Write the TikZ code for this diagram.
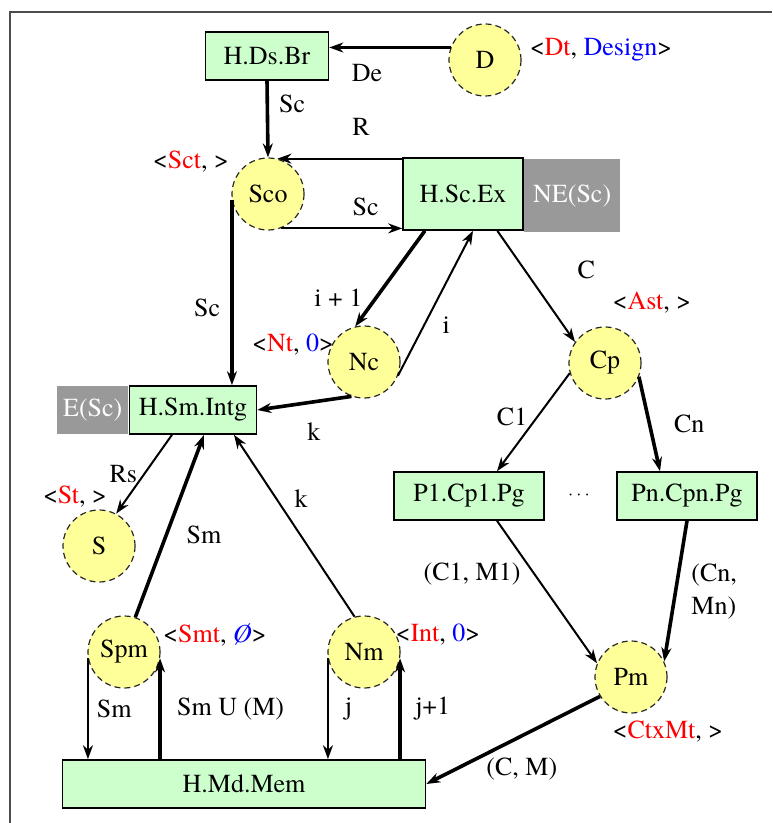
\documentclass[tikz,border=0pt]{standalone}
\usepackage{fontspec}
\setmainfont{texgyretermes}[Extension=.otf, UprightFont=*-regular,
  ItalicFont=*-italic, BoldFont=*-bold, BoldItalicFont=*-bolditalic]
\usepackage{tikz}
\usetikzlibrary{arrows.meta,positioning}
\usepackage{xcolor}
\definecolor{BoxGreen}{HTML}{CCFFCC}
\definecolor{StateYellow}{HTML}{FFFF99}
\definecolor{TagGray}{HTML}{999999}
\definecolor{FrameGray}{HTML}{4D4D4D}
\definecolor{TagRed}{HTML}{FF0000}
\definecolor{TagBlue}{HTML}{0000FF}
\newcommand{\tr}[1]{\textcolor{TagRed}{#1}}
\newcommand{\tb}[1]{\textcolor{TagBlue}{#1}}

\begin{document}
\begin{tikzpicture}[x=0.5pt, y=-0.5pt,
    every node/.style={font=\fontsize{13}{15}\selectfont},
    hbox/.style={rectangle, draw=black, line width=0.8pt, fill=BoxGreen,
                 minimum height=24pt, inner sep=2pt},
    proc/.style={circle, draw=black!85, densely dashed, line width=0.6pt,
                 fill=StateYellow, minimum size=36pt, inner sep=0pt},
    gtag/.style={rectangle, fill=TagGray, text=white, inner sep=2pt},
    lbl/.style={inner sep=1pt},
    link/.style={-{Stealth[length=7pt,width=5pt]}, line width=1pt},
    heavy/.style={link, line width=1.8pt}]
        \useasboundingbox (0,0) rectangle (772,823);
        \draw[FrameGray, line width=1pt] (10,823) -- (10,12) -- (772,12);

        % nodes
        \node[hbox, minimum width=61.5pt] (hdsbr) at (267,56) {H.Ds.Br};
        \node[proc] (d) at (485,60) {D};
        \node (dtag) at (601,50) {<\tr{Dt}, \tb{Design}>};
        \node[proc] (sco) at (268,194) {Sco};
        \node (scotag) at (191,162) {<\tr{Sct}, >};
        \node[hbox, minimum width=60pt, minimum height=36pt] (hscex) at (463,194) {H.Sc.Ex};
        \node[gtag, minimum width=48pt, minimum height=36.5pt, anchor=west]
              (ne) at ([yshift=-1pt]hscex.east) {NE(Sc)};
        \node[proc] (nc) at (364,362) {Nc};
        \node (nctag) at (293,345) {<\tr{Nt}, \tb{0}>};
        \node[proc] (cp) at (605,363) {Cp};
        \node (cptag) at (652,303) {<\tr{Ast}, >};
        \node[hbox, minimum width=63.5pt] (hsm) at (193,410) {H.Sm.Intg};
        \node[gtag, minimum width=35.5pt, minimum height=24pt, anchor=east]
              (esc) at (hsm.west) {E(Sc)};
        \node[hbox, minimum width=75pt] (p1) at (469,496) {P1.Cp1.Pg};
        \node (dots) at (579,495) {\small$\cdots$};
        \node[hbox, minimum width=70pt] (pn) at (687,496) {Pn.Cpn.Pg};
        \node[proc] (s) at (99,546) {S};
        \node (stag) at (75,497) {<\tr{St}, >};
        \node[proc] (spm) at (124,652) {Spm};
        \node (spmtag) at (215,635) {<\tr{Smt}, \tb{\itshape Ø}>};
        \node[proc] (nm) at (364,652) {Nm};
        \node (nmtag) at (438,635) {<\tr{Int}, \tb{0}>};
        \node[proc] (pm) at (631,677) {Pm};
        \node (pmtag) at (668,732) {<\tr{CtxMt}, >};
        \node[hbox, minimum width=181.5pt] (hmd) at (244,784) {H.Md.Mem};

        % connectors
        \draw[heavy] (d.160) -- (d.160 -| hdsbr.east)
          node[lbl, pos=.69, below=6.7pt] {De};
        \draw[heavy] (hdsbr.south) -- (sco.north)
          node[lbl, pos=.3, right=4pt] {Sc};
        \draw[link] (sco.75 -| hscex.west) -- (sco.75)
          node[lbl, pos=.33, above=10pt] {R};
        \draw[link] (sco.-70) -- (sco.-70 -| hscex.west)
          node[lbl, pos=.7, above=4.7pt] {Sc};
        \draw[heavy] (sco.190) -- (sco.190 |- hsm.north)
          node[lbl, pos=.58, left=4pt] {Sc};
        \draw[heavy] (hscex.-136) -- (nc.104)
          node[lbl, pos=.7, left=5pt] {i + 1};
        \draw[link] (nc.-22) -- ([xshift=5pt]hscex.south)
          node[lbl, pos=.35, right=7.7pt] {i};
        \draw[heavy] (nc.-110) -- (hsm.east)
          node[lbl, pos=.4, below=8.5pt] {k};
        \draw[link] (hscex.-47) -- (cp.145)
          node[lbl, pos=.35, right=25pt] {C};
        \draw[link] (cp.196) -- ([xshift=14pt]p1.north)
          node[lbl, pos=.45, left=3.4pt] {C1};
        \draw[heavy] (cp.-22) -- ([xshift=-13.5pt]pn.north)
          node[lbl, midway, right=10.4pt] {Cn};
        \draw[link] ([xshift=-10.5pt]hsm.south) -- (s.62)
          node[lbl, midway, left=2pt] {Rs};
        \draw[heavy] (spm.72) -- ([xshift=5.5pt]hsm.south)
          node[lbl, pos=.45, right=8.3pt] {Sm};
        \draw[link] (nm.105) -- ([xshift=20.5pt]hsm.south)
          node[lbl, pos=.65, right=7.7pt] {k};
        \draw[link] ([xshift=14pt]p1.south) -- (pm.158)
          node[lbl, pos=.37, left=5.3pt] {(C1, M1)};
        \draw[heavy] (pn.south) -- (pm.25)
          node[lbl, midway, right=6pt, align=left,
               font=\fontsize{13}{16.5}\selectfont] {(Cn,\\Mn)};
        \draw[heavy] (pm.-148) -- (hmd.east)
          node[lbl, pos=.45, below=9pt] {(C, M)};
        \draw[link] (spm.190) -- (spm.190 |- hmd.north)
          node[lbl, midway, right=3pt] {Sm};
        \draw[heavy] (spm.-10 |- hmd.north) -- (spm.-10)
          node[lbl, midway, right=6.7pt] {Sm U (M)};
        \draw[link] (nm.190) -- (nm.190 |- hmd.north)
          node[lbl, midway, right=7pt] {j};
        \draw[heavy] (nm.-10 |- hmd.north) -- (nm.-10)
          node[lbl, midway, right=5.7pt] {j+1};
\end{tikzpicture}
\end{document}
